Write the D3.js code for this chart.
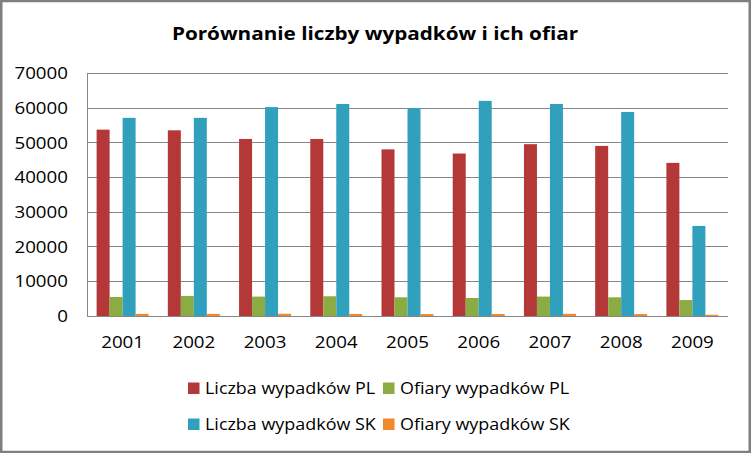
<!DOCTYPE html>
<html>
<head>
<meta charset="utf-8">
<script src="https://cdn.jsdelivr.net/npm/d3@7/dist/d3.min.js"></script>
<style>
html,body{margin:0;padding:0;background:#fff;}
svg{display:block;}
text{font-family:"Open Sans","Noto Sans",sans-serif;fill:#000;}
</style>
</head>
<body>
<svg id="chart" width="751" height="453"></svg>
<script>
const title = "Porównanie liczby wypadków i ich ofiar";
const years = ["2001","2002","2003","2004","2005","2006","2007","2008","2009"];
const seriesNames = ["Liczba wypadków PL","Ofiary wypadków PL","Liczba wypadków SK","Ofiary wypadków SK"];
const liczbaPL = [53800, 53600, 51100, 51100, 48100, 46900, 49600, 49100, 44200];
const ofiaryPL = [5500, 5800, 5600, 5700, 5400, 5200, 5600, 5400, 4600];
const liczbaSK = [57200, 57200, 60300, 61200, 60000, 62100, 61200, 58900, 26000];
const ofiarySK = [620, 610, 650, 600, 560, 580, 630, 560, 350];
const yTicks = [0, 10000, 20000, 30000, 40000, 50000, 60000, 70000];
const colors = ["#B43838", "#8BAC43", "#31A0BD", "#F0882E"];

const seriesValues = [liczbaPL, ofiaryPL, liczbaSK, ofiarySK];
const SX = 1.15;

const svg = d3.select("#chart");
const W = 751, H = 453;
const plot = {left: 87, right: 728, top: 73.5, bottom: 316};

const x = d3.scaleBand().domain(years).range([plot.left, plot.right]).paddingInner(0.27).paddingOuter(0.135);
const xs = d3.scaleBand().domain(seriesNames).range([0, x.bandwidth()]).padding(0);
const y = d3.scaleLinear().domain([0, 70000]).range([plot.bottom, plot.top]);

svg.append("rect").attr("x",0).attr("y",0).attr("width",W).attr("height",H).attr("fill","#fff");

svg.append("g").selectAll("line").data(yTicks.filter(t => t > 0)).join("line")
  .attr("x1", plot.left).attr("x2", plot.right)
  .attr("y1", d => y(d)).attr("y2", d => y(d))
  .attr("stroke", "#868686").attr("stroke-width", 1)
  .attr("shape-rendering","crispEdges");

const g = svg.append("g");
seriesNames.forEach((s, si) => {
  g.append("g").selectAll("rect").data(years.map((yr, i) => ({yr, v: seriesValues[si][i]}))).join("rect")
    .attr("x", d => x(d.yr) + xs(s))
    .attr("width", xs.bandwidth())
    .attr("y", d => y(d.v))
    .attr("height", d => y(0) - y(d.v))
    .attr("fill", colors[si]);
});

svg.append("line").attr("x1", plot.left).attr("x2", plot.left).attr("y1", plot.top).attr("y2", plot.bottom)
  .attr("stroke","#868686").attr("stroke-width",1).attr("shape-rendering","crispEdges");
svg.append("line").attr("x1", plot.left).attr("x2", plot.right).attr("y1", plot.bottom).attr("y2", plot.bottom)
  .attr("stroke","#868686").attr("stroke-width",1).attr("shape-rendering","crispEdges");

function stretchText(sel, tx, ty) {
  sel.attr("transform", `translate(${tx},${ty}) scale(${SX},1)`);
}

svg.append("g").selectAll("text").data(yTicks).join("text")
  .attr("text-anchor","end").attr("font-size", 16.3).attr("dy","0.36em")
  .text(d => d)
  .each(function(d){ stretchText(d3.select(this), 68, y(d)); });

svg.append("g").selectAll("text").data(years).join("text")
  .attr("text-anchor","middle").attr("font-size", 16.3).attr("dy","0.36em")
  .text(d => d)
  .each(function(d){ stretchText(d3.select(this), x(d) + x.bandwidth()/2, 342); });

svg.append("text").attr("text-anchor","middle").attr("font-size", 18).attr("font-weight","bold")
  .text(title)
  .call(s => stretchText(s, 375, 40));

const legendPos = [[188, 388], [383, 388], [188, 424], [383, 424]];
seriesNames.forEach((s, i) => {
  const [lx, ly] = legendPos[i];
  svg.append("rect").attr("x", lx).attr("y", ly - 5.5).attr("width", 11.5).attr("height", 11.5).attr("fill", colors[i]);
  svg.append("text").attr("font-size", 15.6).attr("dy","0.36em").text(s)
    .call(t => stretchText(t, lx + 17, ly));
});

svg.append("rect").attr("x",1.25).attr("y",1).attr("width",W-2.5).attr("height",H-2)
  .attr("fill","none").attr("stroke","#7f7f7f").attr("stroke-width",2.5);
</script>
</body>
</html>
